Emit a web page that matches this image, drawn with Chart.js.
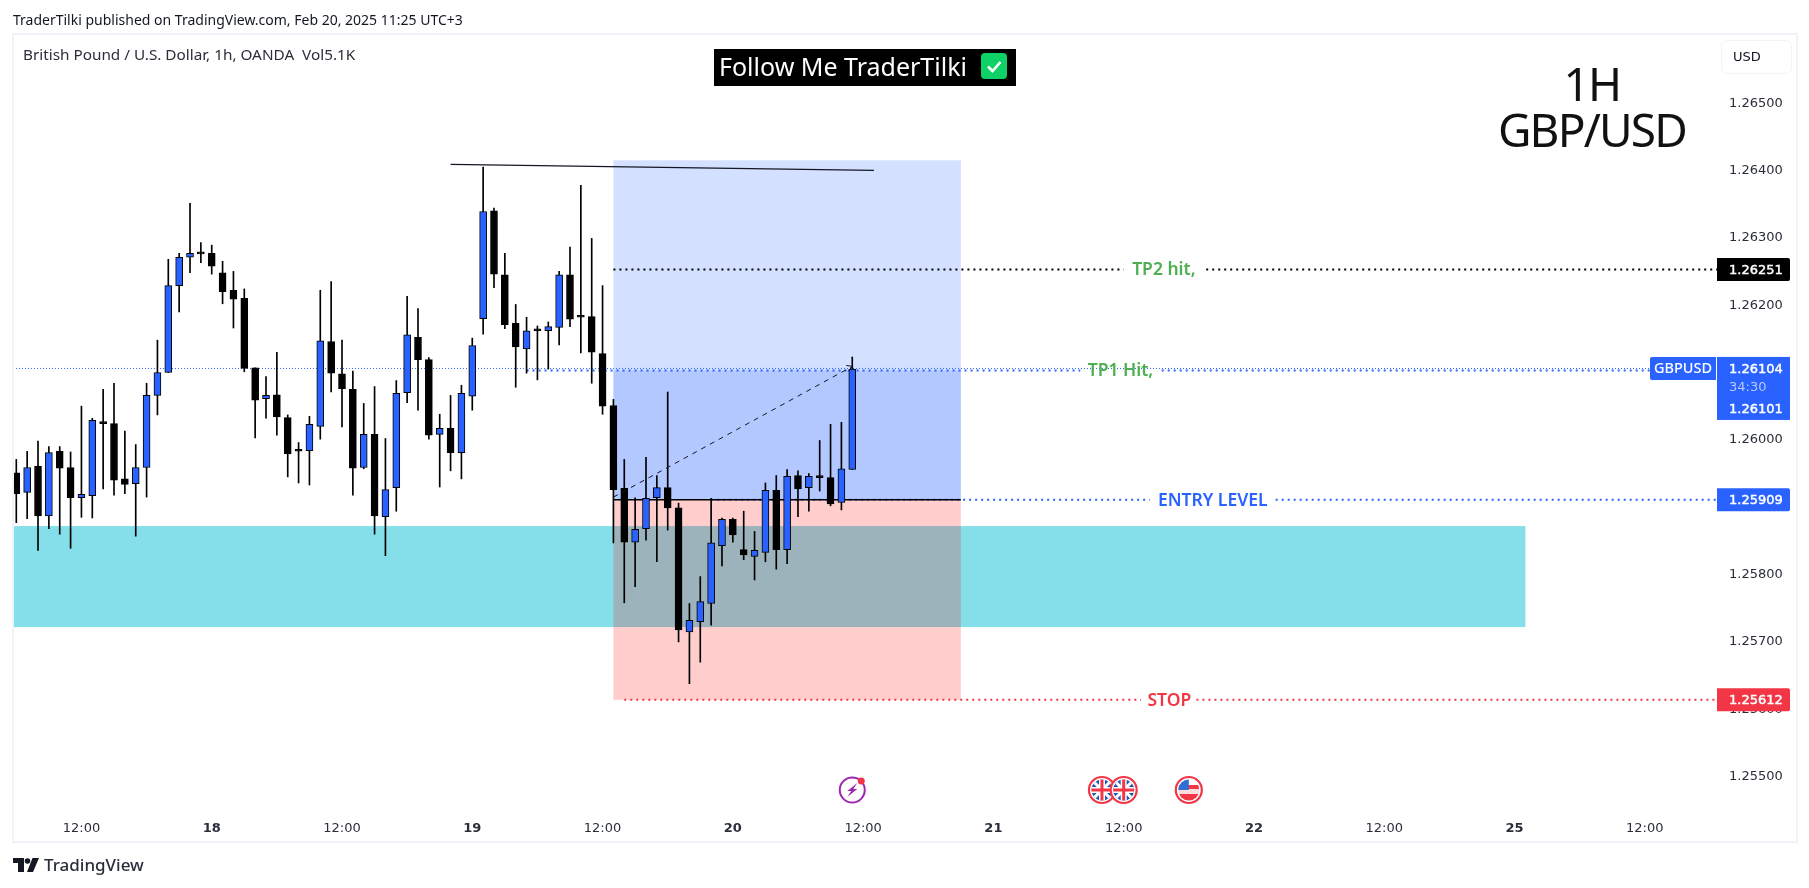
<!DOCTYPE html>
<html><head><meta charset="utf-8">
<script src="https://cdn.jsdelivr.net/npm/chart.js@4"></script>
<style>
html,body{margin:0;padding:0;background:#fff;width:1809px;height:888px;overflow:hidden}
canvas{position:absolute;left:0;top:0}
.t{position:absolute;white-space:nowrap;font-family:"Noto Sans",sans-serif;color:#131722}
</style></head><body>
<canvas id="c" width="1809" height="888"></canvas>
<div class="t" style="left:13px;top:10px;font-size:14px;line-height:20px">TraderTilki published on TradingView.com, Feb 20, 2025 11:25 UTC+3</div>
<div class="t" style="left:23px;top:44px;font-size:15.3px;line-height:20px;color:#2a2e39">British Pound / U.S. Dollar, 1h, OANDA&nbsp; Vol5.1K</div>
<div class="t" style="left:714px;top:49px;width:302px;height:37px;background:#000"></div>
<div class="t" style="left:719px;top:48px;font-size:25px;line-height:37px;color:#fff">Follow Me TraderTilki</div>
<svg style="position:absolute;left:981px;top:53px" width="26" height="26"><rect width="26" height="26" rx="4" fill="#0ed267"/><path d="M7 13.5l4.5 4.5 8-9" fill="none" stroke="#fff" stroke-width="2.6"/></svg>
<div class="t" style="left:1492px;top:55px;width:200px;text-align:center;font-size:46px;line-height:56px;letter-spacing:-1.8px;color:#111">1H</div>
<div class="t" style="left:1492px;top:101px;width:200px;text-align:center;font-size:46px;line-height:56px;letter-spacing:-1.8px;color:#111">GBP/USD</div>
<div class="t" style="left:1721px;top:40px;width:71px;height:34px;box-sizing:border-box;border:1px solid #f0f3fa;border-radius:6px;font-family:'DejaVu Sans';font-size:13px;line-height:32px;padding-left:11px">USD</div>
<svg style="position:absolute;left:13px;top:858px" width="26" height="14"><path d="M0 0h11v14H5V5H0z M14 14l5.5-14h6.5l-6 14z" fill="#131722"/><circle cx="14.5" cy="3" r="2.8" fill="#131722"/></svg>
<div class="t" style="left:44px;top:854px;font-size:17px;line-height:22px;font-weight:500;color:#2a2e39">TradingView</div>
<script>
const opens = [125949,125920,125959,125885,125981,125957,125912,125915,126024,126022,125940,125933,125957,126064,126098,126227,126269,126275,126275,126246,126220,126208,126105,126059,126065,126031,125982,125982,126018,126144,126096,126073,125957,126006,125884,125927,126068,126150,126117,126006,126015,125979,126063,126178,126338,126243,126171,126133,126162,126160,126165,126243,126181,126181,126126,126049,125926,125846,125866,125912,125927,125897,125713,125728,125755,125841,125880,125835,125825,125831,125923,125835,125945,125927,125943,125942,125905,125954];
const closes = [125918,125957,125885,125979,125956,125912,125917,126027,126022,125938,125932,125957,126064,126098,126227,126269,126275,126274,126256,126218,126207,126104,126057,126064,126032,125977,125981,126021,126145,126097,126074,125956,126006,125885,125924,126067,126154,126117,126005,126015,125979,126067,126138,126337,126244,126169,126136,126160,126160,126166,126243,126177,126180,126128,126048,125924,125846,125865,125911,125927,125897,125716,125730,125758,125845,125880,125857,125827,125834,125923,125835,125944,125925,125944,125942,125903,125955,126103];
const highs = [125969,125981,125996,125988,125988,125980,126048,126030,126073,126082,126011,125991,126082,126146,126266,126275,126349,126291,126287,126263,126248,126222,126105,126092,126128,126035,125994,126033,126220,126233,126146,126100,126052,126077,126000,126086,126211,126193,126120,126036,126064,126079,126149,126403,126342,126275,126199,126180,126167,126173,126248,126284,126376,126297,126227,126058,125969,125912,125972,125945,126069,125904,125755,125795,125911,125882,125882,125892,125862,125934,125945,125954,125952,125948,125997,126021,126024,126121];
const lows = [125875,125881,125834,125866,125858,125837,125883,125882,125925,125916,125918,125855,125913,126035,126098,126188,126246,126261,126244,126200,126164,126099,126001,126030,126005,125943,125934,125931,125999,126069,126017,125916,125955,125858,125826,125892,126053,126042,125999,125928,125952,125940,126042,126155,126224,126163,126076,126097,126087,126103,126139,126166,126127,126082,126036,125845,125756,125780,125849,125817,125864,125698,125636,125668,125723,125811,125846,125820,125790,125817,125806,125814,125884,125892,125922,125900,125894,125954];
const priceTicks = [1.255,1.256,1.257,1.258,1.259,1.26,1.261,1.262,1.263,1.264,1.265];
const timeTickIdx = [6,18,30,42,54,66,78,90,102,114,126,138,150];
const timeTickLabels = ["12:00","18","12:00","19","12:00","20","12:00","21","12:00","22","12:00","25","12:00"];
const tp2 = 1.26251, tp1 = 1.26101, lastPrice = 1.26104, entry = 1.25909, stop = 1.25612;
const toolStart = 55, toolEnd = 87, zoneEnd = 139, toolTop = 1.26413;
const zoneTop = 1.2587, zoneBottom = 1.2572;
const trendX = [40,79], trendY = [1.26407,1.26398];
const dashX = [55,77], dashY = [1.25913,1.26107];
const eventIdx = [77,100,102,108];

const X_MIN=-0.304, X_MAX=156.65, Y_MIN=1.25447, Y_MAX=1.26599;
const P = v => v/100000;
const wicks = highs.map((h,i)=>({x:i,y:[P(lows[i]),P(h)]}));
const bodies = opens.map((o,i)=>({x:i,y:[P(Math.min(o,closes[i])),P(Math.max(o,closes[i]))]}));
const bodyColors = opens.map((o,i)=>closes[i]>=o?"#2962ff":"#000");
const seg = (a,b,y)=>[{x:a,y},{x:b,y}];
const gapLine = (a,g1,g2,b,y)=>[{x:a,y},{x:g1,y},{x:g1+.01,y:null},{x:g2,y},{x:b,y}];
const lineDs = (data,color,w,dash,order)=>({type:"line",data,borderColor:color,borderWidth:w,borderDash:dash,pointRadius:0,order,spanGaps:false,tension:0});
const FONT='"Noto Sans",sans-serif';
const AXF='"DejaVu Sans",sans-serif';

const overlay = {
  id:"overlay",
  beforeDatasetsDraw(ch){
    const c=ch.ctx,x=ch.scales.x,y=ch.scales.y,a=ch.chartArea;
    const rect=(x0,x1,y0,y1,col)=>{c.fillStyle=col;const X0=x.getPixelForValue(x0),X1=x.getPixelForValue(x1),Y0=y.getPixelForValue(y0),Y1=y.getPixelForValue(y1);c.fillRect(X0,Y0,X1-X0,Y1-Y0);};
    c.save();c.beginPath();c.rect(a.left,a.top,a.width,a.height);c.clip();
    rect(X_MIN,zoneEnd,zoneTop,zoneBottom,"#85dfea");
    rect(toolStart,toolEnd,toolTop,entry,"rgba(41,98,255,.2)");
    rect(toolStart,toolEnd,tp1,entry,"rgba(41,98,255,.2)");
    rect(toolStart,toolEnd,entry,stop,"rgba(255,5,0,.2)");
    c.restore();
  },
  afterDraw(ch){
    const c=ch.ctx,x=ch.scales.x,y=ch.scales.y;
    c.save();
    c.strokeStyle="#f0f3fa";c.lineWidth=2;c.strokeRect(13,34,1784,808);
    const lab=(t,i,p,col)=>{c.font=`600 17.5px ${FONT}`;c.fillStyle=col;c.textAlign="center";c.textBaseline="middle";c.fillText(t,x.getPixelForValue(i),y.getPixelForValue(p)+1);};
    lab("TP2 hit,",105.7,tp2,"#4caf50");
    lab("TP1 Hit,",101.7,tp1,"#4caf50");
    lab("ENTRY LEVEL",110.2,entry,"#2962ff");
    lab("STOP",106.2,stop,"#f23645");
    const tag=(yc,h,col,x0=1717,x1=1790)=>{c.fillStyle=col;c.beginPath();c.roundRect(x0,yc-h/2,x1-x0,h,[0,2,2,0]);c.fill();};
    const txt=(t,px,py,col="#fff",heavy=true)=>{c.font=`400 13px ${AXF}`;c.fillStyle=col;c.textAlign="left";c.textBaseline="middle";c.fillText(t,px,py+1);if(heavy){c.strokeStyle=col;c.lineWidth=.45;c.strokeText(t,px,py+1);}};
    const py=v=>y.getPixelForValue(v);
    tag(py(tp2),23,"#000");txt(tp2.toFixed(5),1729,py(tp2));
    tag(py(entry),23,"#2962ff");txt(entry.toFixed(5),1729,py(entry));
    tag(py(stop),23,"#f23645");txt(stop.toFixed(5),1729,py(stop));
    const ly=py(lastPrice);
    c.fillStyle="#2962ff";c.fillRect(1717,ly-11.5,73,63);
    txt(lastPrice.toFixed(5),1729,ly);
    txt("34:30",1729,ly+18,"#b6c8ff",false);
    txt(tp1.toFixed(5),1729,ly+40);
    c.fillStyle="#2962ff";c.beginPath();c.roundRect(1650,ly-11.5,66,23,[2,0,0,2]);c.fill();
    c.font=`500 14.5px ${FONT}`;c.fillStyle="#fff";c.fillText("GBPUSD",1654,ly+.5);
    const ax=x.getPixelForValue(dashX[1]),ay=y.getPixelForValue(dashY[1]);
    c.strokeStyle="#131722";c.lineWidth=1;c.beginPath();c.moveTo(ax-6,ay-1);c.lineTo(ax,ay);c.lineTo(ax-4,ay+5);c.stroke();
    const iy=790;
    const ex=i=>x.getPixelForValue(i);
    let ix=ex(eventIdx[0]);
    c.strokeStyle="#9c27b0";c.lineWidth=2;c.beginPath();c.arc(ix,iy,12.5,0,Math.PI*2);c.stroke();
    c.fillStyle="#9c27b0";c.beginPath();c.moveTo(ix+5,iy-7);c.lineTo(ix-5,iy+1);c.lineTo(ix-1,iy+1);c.lineTo(ix-5,iy+7);c.lineTo(ix+5,iy-1);c.lineTo(ix+1,iy-1);c.closePath();c.fill();
    c.fillStyle="#f23645";c.beginPath();c.arc(ix+9,iy-9,3.5,0,Math.PI*2);c.fill();
    for(const i of [eventIdx[1],eventIdx[2]]){
      ix=ex(i);
      c.fillStyle="#fff";c.beginPath();c.arc(ix,iy,13,0,Math.PI*2);c.fill();
      c.fillStyle="#1e57b0";c.beginPath();c.arc(ix,iy,10.5,0,Math.PI*2);c.fill();
      c.save();c.beginPath();c.arc(ix,iy,10.5,0,Math.PI*2);c.clip();
      c.strokeStyle="#fff";c.lineWidth=3;c.beginPath();c.moveTo(ix-11,iy-11);c.lineTo(ix+11,iy+11);c.moveTo(ix+11,iy-11);c.lineTo(ix-11,iy+11);c.stroke();
      c.lineWidth=6;c.beginPath();c.moveTo(ix,iy-11);c.lineTo(ix,iy+11);c.moveTo(ix-11,iy);c.lineTo(ix+11,iy);c.stroke();
      c.strokeStyle="#f23645";c.lineWidth=3;c.beginPath();c.moveTo(ix,iy-11);c.lineTo(ix,iy+11);c.moveTo(ix-11,iy);c.lineTo(ix+11,iy);c.stroke();
      c.restore();
      c.strokeStyle="#f23645";c.lineWidth=2.2;c.beginPath();c.arc(ix,iy,13,0,Math.PI*2);c.stroke();
    }
    ix=ex(eventIdx[3]);
    c.fillStyle="#fff";c.beginPath();c.arc(ix,iy,13,0,Math.PI*2);c.fill();
    c.save();c.beginPath();c.arc(ix,iy,10.5,0,Math.PI*2);c.clip();
    c.fillStyle="#f23645";c.fillRect(ix-11,iy-5,22,4);c.fillRect(ix-11,iy+4,22,8);
    c.fillStyle="#fdd";c.fillRect(ix-11,iy-1,22,5);
    c.fillStyle="#2f6fd6";c.fillRect(ix-11,iy-11,11,11);
    c.restore();
    c.strokeStyle="#f23645";c.lineWidth=2.2;c.beginPath();c.arc(ix,iy,13,0,Math.PI*2);c.stroke();
    c.restore();
  }
};

new Chart(document.getElementById("c"),{
  type:"bar",
  data:{datasets:[
    lineDs(seg(X_MIN,X_MAX,lastPrice),"#2962ff",1,[1,2],20),
    lineDs(gapLine(47,98,105.5,X_MAX,tp1),"#2962ff",2,[2,4],19),
    lineDs(gapLine(55,102,109.6,X_MAX,tp2),"#000",2,[2,4],18),
    lineDs(gapLine(64,104.4,116,X_MAX,entry),"#2962ff",2,[2,4],17),
    lineDs(gapLine(56,103.6,108.7,X_MAX,stop),"#f23645",2,[2,4],16),
    lineDs(seg(toolStart,toolEnd,entry),"#000",1.5,[],15),
    lineDs(trendX.map((v,i)=>({x:v,y:trendY[i]})),"#131722",1.2,[],14),
    {type:"bar",label:"wick",data:wicks,backgroundColor:"#000",borderWidth:0,barThickness:1,grouped:false,order:3},
    {type:"bar",label:"body",data:bodies,backgroundColor:bodyColors,borderColor:"#000",borderWidth:1,borderSkipped:false,barThickness:7,grouped:false,minBarLength:2,order:2},
    lineDs(dashX.map((v,i)=>({x:v,y:dashY[i]})),"#131722",1,[5,5],1)
  ]},
  options:{
    responsive:false,animation:false,devicePixelRatio:1,
    layout:{padding:{left:13,top:35,right:12,bottom:47}},
    plugins:{legend:{display:false},tooltip:{enabled:false}},
    scales:{
      x:{type:"linear",min:X_MIN,max:X_MAX,offset:false,
        grid:{display:false},border:{display:false},
        afterBuildTicks:s=>{s.ticks=timeTickIdx.map(v=>({value:v}));},
        afterFit:s=>{s.height=30;},
        ticks:{autoSkip:false,maxRotation:0,padding:1.5,color:"#2a2e39",
          font:ctx=>{const l=ctx.tick?timeTickLabels[timeTickIdx.indexOf(ctx.tick.value)]:"12:00";return {family:AXF,size:13,weight:(l||"").includes(":")?"400":"700"};},
          callback:v=>timeTickLabels[timeTickIdx.indexOf(v)]||""}
      },
      y:{position:"right",min:Y_MIN,max:Y_MAX,
        grid:{display:false},border:{display:false},
        afterBuildTicks:s=>{s.ticks=priceTicks.map(v=>({value:v}));},
        afterFit:s=>{s.width=80;},
        ticks:{autoSkip:false,padding:4,labelOffset:1.5,color:"#2a2e39",font:{family:AXF,size:13},callback:v=>Number(v).toFixed(5)}
      }
    }
  },
  plugins:[overlay]
});
</script>
</body></html>
